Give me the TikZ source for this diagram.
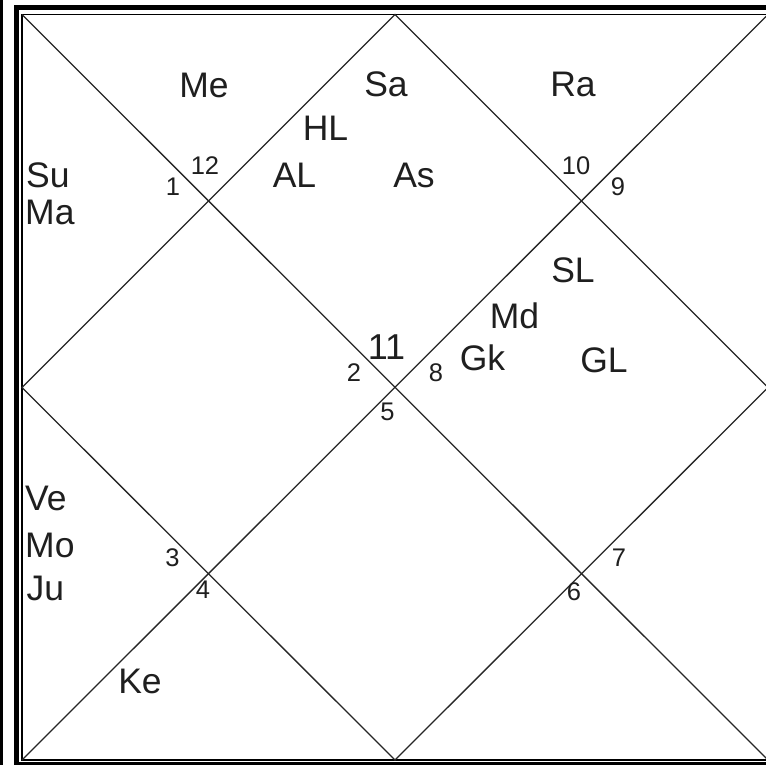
\documentclass[tikz,border=0pt]{standalone}
\usepackage{fontspec}
\setmainfont{Liberation Sans}
\begin{document}
\begin{tikzpicture}[x=1pt,y=-1pt,
  chartline/.style={line width=1.3pt,draw=black!85},
  big/.style={inner sep=0pt,anchor=base,font=\fontsize{35.5}{35.5}\selectfont,text=black!88},
  leftcol/.style={big,anchor=base west},
  num/.style={inner sep=0pt,anchor=base,font=\fontsize{25.5}{25.5}\selectfont,text=black!88},
  numbig/.style={inner sep=0pt,anchor=base,font=\fontsize{36}{36}\selectfont,text=black!88}]
\useasboundingbox (0,0) rectangle (766,765);
\clip (0,0) rectangle (766,765);
\fill[white] (0,0) rectangle (766,765);
% left dark bar
\fill[black] (0,0) rectangle (3,765);
% frames
\draw[line width=5pt,black] (16,790) -- (16,7.5) -- (800,7.5);
\draw[line width=2.5pt,black] (16,763.5) -- (800,763.5);
\coordinate (TL) at (22,14.5);
\coordinate (TR) at (768,14.5);
\coordinate (BL) at (22,760);
\coordinate (BR) at (768,760);
\coordinate (MT) at (395,14.5);
\coordinate (ML) at (22,387.5);
\coordinate (MB) at (395,760);
\coordinate (MR) at (768,387.5);
\draw[line width=1.6pt,black] (TL) rectangle (BR);
\draw[chartline] (TL) -- (BR);
\draw[chartline] (TR) -- (BL);
\draw[chartline] (MT) -- (ML) -- (MB) -- (MR) -- cycle;
% planet labels
\node[big] (me) at (204,98) {Me};
\node[big] (sa) at (386,97) {Sa};
\node[big] (ra) at (573,97) {Ra};
\node[big] (hl) at (325.5,141) {HL};
\node[big] (al) at (294.5,187) {AL};
\node[big] (as) at (414,187) {As};
\node[leftcol] (su) at (26,188) {Su};
\node[leftcol] (ma) at (25,224) {Ma};
\node[leftcol] (ve) at (25,510) {Ve};
\node[leftcol] (mo) at (25,557) {Mo};
\node[leftcol] (ju) at (26.5,600) {Ju};
\node[big] (ke) at (140,693) {Ke};
\node[big] (sl) at (573,282) {SL};
\node[big] (md) at (514.5,328) {Md};
\node[big] (gk) at (482.5,370) {Gk};
\node[big] (gl) at (604,372) {GL};
% house numbers
\node[num] (n12) at (205,175) {12};
\node[num] (n1) at (173,195) {1};
\node[numbig] (n11) at (386.5,359) {11};
\node[num] (n2) at (354,381) {2};
\node[num] (n8) at (436,381) {8};
\node[num] (n5) at (387.5,420) {5};
\node[num] (n3) at (172.5,566) {3};
\node[num] (n4) at (203,598) {4};
\node[num] (n10) at (576,175) {10};
\node[num] (n9) at (618,195) {9};
\node[num] (n7) at (619,566) {7};
\node[num] (n6) at (574,600) {6};
\end{tikzpicture}
\end{document}
